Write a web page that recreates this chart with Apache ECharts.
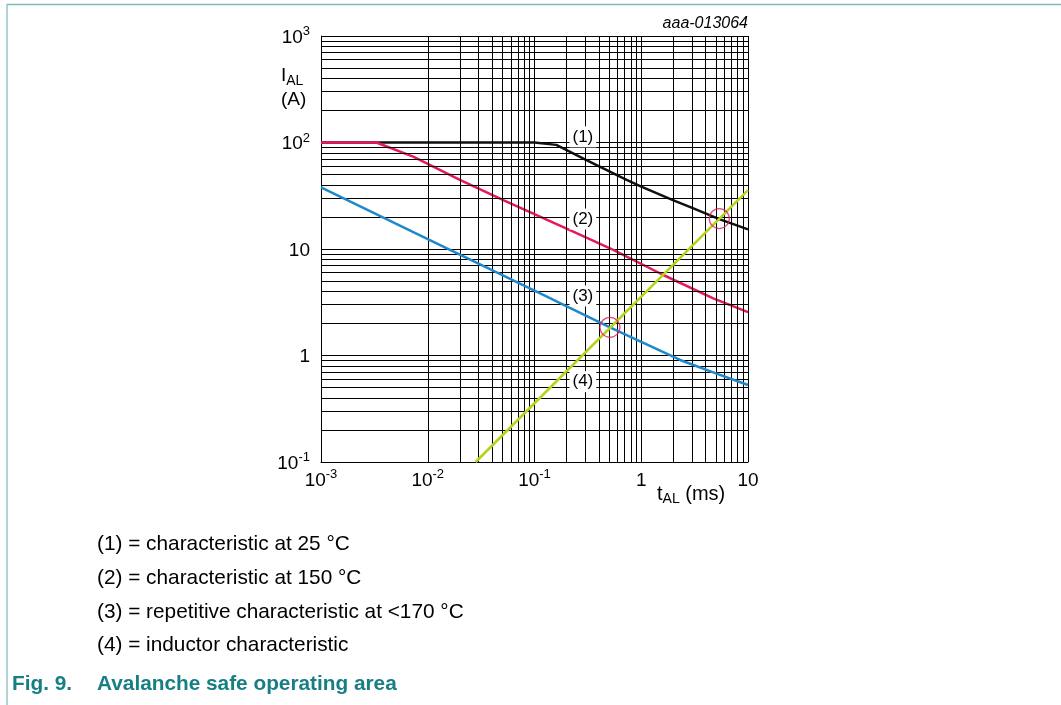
<!DOCTYPE html>
<html><head><meta charset="utf-8">
<script src="https://cdn.jsdelivr.net/npm/echarts@6/dist/echarts.min.js"></script>
<style>html,body{margin:0;padding:0;background:#fff}#c{width:1061px;height:705px}</style>
</head><body><div id="c"></div>
<script>
// ---- tick labels ----
const xTickValues = [0.001, 0.01, 0.1, 1, 10];
const xTickBase   = ['10', '10', '10', '1', '10'];
const xTickExp    = ['-3', '-2', '-1', '', ''];
const yTickValues = [0.1, 1, 10, 100, 1000];
const yTickBase   = ['10', '1', '10', '10', '10'];
const yTickExp    = ['-1', '', '', '2', '3'];

// ---- series values (t in ms, I in A) ----
const c1X = [0.001, 0.0033, 0.1, 0.16, 0.3, 0.73, 1, 1.98, 3, 5.38, 10];
const c1Y = [100, 100, 100, 95, 69, 44.5, 38.5, 28.8, 24.3, 19.1, 15.3];
const c2X = [0.001, 0.0033, 0.0073, 0.02, 0.051, 0.2, 0.547, 1.61, 4.73, 10];
const c2Y = [100, 100, 73.6, 44.5, 28.8, 15.5, 9.8, 5.7, 3.44, 2.55];
const c3X = [0.001, 0.01, 0.1, 0.509, 1, 2.31, 5, 10];
const c3Y = [37.9, 12.4, 4.06, 1.84, 1.34, 0.908, 0.68, 0.528];
const c4X = [0.0281, 10];
const c4Y = [0.1, 35.8];

// intersection markers
const circX = [0.509, 5.38];
const circY = [1.84, 19.3];

// curve number labels
const lblText = ['(1)', '(2)', '(3)', '(4)'];
const lblX = [0.284, 0.284, 0.284, 0.284];
const lblY = [113, 19.1, 3.62, 0.568];

// footnotes
const notes = [
  '(1) = characteristic at 25 °C',
  '(2) = characteristic at 150 °C',
  '(3) = repetitive characteristic at <170 °C',
  '(4) = inductor characteristic'
];
const figNo = 'Fig. 9.';
const figTitle = 'Avalanche safe operating area';
const docId = 'aaa-013064';

const zip = (xs, ys) => xs.map((x, i) => [x, ys[i]]);

// minor (2..9) gridline values per decade
function minors(loExp, hiExp) {
  const out = [];
  for (let e = loExp; e < hiExp; e++) for (let m = 2; m <= 9; m++) out.push(+(m * Math.pow(10, e)).toPrecision(6));
  return out;
}
const xMinor = minors(-3, 1);
const yMinor = minors(-1, 3);

const FONT = '"Liberation Sans", Arial, Helvetica, sans-serif';
const tickRich = {
  b: { fontSize: 19, lineHeight: 22, color: '#000', fontFamily: FONT, verticalAlign: 'bottom' },
  s: { fontSize: 13, lineHeight: 13, color: '#000', fontFamily: FONT, verticalAlign: 'top' }
};
function fmt(values, base, exp) {
  return v => {
    const k = Math.round(Math.log10(v));
    const i = values.findIndex(t => Math.round(Math.log10(t)) === k);
    if (i < 0) return '';
    return '{b|' + base[i] + '}' + (exp[i] ? '{s|' + exp[i] + '}' : '');
  };
}

const chart = echarts.init(document.getElementById('c'), null, { renderer: 'canvas' });
const L = 321, T = 36, W = 427, H = 426;

const noteGraphics = notes.map((t, i) => ({
  type: 'text', left: 97, top: 534 + i * 33.7,
  style: { text: t, fontSize: 20.8, fontFamily: FONT, fill: '#000' }
}));

chart.setOption({
  animation: false,
  backgroundColor: '#fff',
  grid: { left: L, top: T, width: W, height: H, containLabel: false },
  xAxis: {
    type: 'log', logBase: 10, min: 0.001, max: 10,
    axisLine: { show: true, lineStyle: { color: '#000', width: 1 } },
    axisTick: { show: false },
    splitLine: { show: true, lineStyle: { color: '#000', width: 1 } },
    axisLabel: { margin: 6, formatter: fmt(xTickValues, xTickBase, xTickExp), rich: tickRich }
  },
  yAxis: {
    type: 'log', logBase: 10, min: 0.1, max: 1000,
    axisLine: { show: true, lineStyle: { color: '#000', width: 1 } },
    axisTick: { show: false },
    splitLine: { show: true, lineStyle: { color: '#000', width: 1 } },
    axisLabel: { margin: 11, formatter: fmt(yTickValues, yTickBase, yTickExp), rich: tickRich }
  },
  series: [
    {
      type: 'line', data: [[0.001, 0.1]], showSymbol: false, symbol: 'none', lineStyle: { width: 0 }, silent: true, z: 1,
      markLine: {
        silent: true, symbol: ['none', 'none'], label: { show: false },
        lineStyle: { color: '#000', width: 1, type: 'solid', opacity: 1 },
        emphasis: { disabled: true },
        data: xMinor.map(v => ({ xAxis: v })).concat(yMinor.map(v => ({ yAxis: v })))
      }
    },
    { type: 'line', data: zip(c1X, c1Y), symbol: 'none', lineStyle: { color: '#111', width: 2.5 }, z: 3 },
    { type: 'line', data: zip(c2X, c2Y), symbol: 'none', lineStyle: { color: '#e8175d', width: 2.5 }, z: 4 },
    { type: 'line', data: zip(c3X, c3Y), symbol: 'none', lineStyle: { color: '#1f88cc', width: 2.5 }, z: 5 },
    { type: 'line', data: zip(c4X, c4Y), symbol: 'none', lineStyle: { color: '#b2d41c', width: 2.5 }, z: 6 },
    {
      type: 'scatter', data: zip(circX, circY), symbol: 'circle', symbolSize: 20, z: 7,
      itemStyle: { color: 'rgba(0,0,0,0)', borderColor: '#e5195b', borderWidth: 1.3 }
    },
    {
      type: 'scatter', data: lblX.map((x, i) => [x, lblY[i], lblText[i]]), symbol: 'circle', symbolSize: 1, z: 8,
      itemStyle: { color: '#fff', opacity: 1 },
      label: {
        show: true, position: 'inside', formatter: p => p.data[2],
        fontSize: 17, fontFamily: FONT, color: '#000', opacity: 1,
        textBorderWidth: 0,
        backgroundColor: '#fff', padding: [2, 3]
      }
    }
  ],
  graphic: [
    { type: 'line', shape: { x1: 7, y1: 4.5, x2: 1061, y2: 4.5 }, style: { stroke: '#7db8bc', lineWidth: 1.6 } },
    { type: 'line', shape: { x1: 7, y1: 4, x2: 7, y2: 705 }, style: { stroke: '#8fc2c5', lineWidth: 1.4 } },
    { type: 'text', right: 1061 - 748, top: 16, style: { text: docId, fontSize: 16, fontStyle: 'italic', fontFamily: FONT, fill: '#000' } },
    {
      type: 'text', left: 281, top: 66,
      style: {
        text: '{i|I}{s|AL}', fontFamily: FONT,
        rich: { i: { fontSize: 19, fontFamily: FONT, fill: '#000', lineHeight: 22, verticalAlign: 'top' }, s: { fontSize: 14, fontFamily: FONT, fill: '#000', lineHeight: 14, verticalAlign: 'bottom' } }
      }
    },
    { type: 'text', left: 281, top: 90, style: { text: '(A)', fontSize: 19, fontFamily: FONT, fill: '#000' } },
    {
      type: 'text', left: 657, top: 484,
      style: {
        text: '{i|t}{s|AL}{i| (ms)}', fontFamily: FONT,
        rich: { i: { fontSize: 20, fontFamily: FONT, fill: '#000', lineHeight: 22, verticalAlign: 'top' }, s: { fontSize: 14, fontFamily: FONT, fill: '#000', lineHeight: 14, verticalAlign: 'bottom' } }
      }
    }
  ].concat(noteGraphics).concat([
    { type: 'text', left: 12, top: 674, style: { text: figNo, fontSize: 20.8, fontWeight: 'bold', fontFamily: FONT, fill: '#177e84' } },
    { type: 'text', left: 97, top: 674, style: { text: figTitle, fontSize: 20.8, fontWeight: 'bold', fontFamily: FONT, fill: '#177e84' } }
  ])
});
</script></body></html>
